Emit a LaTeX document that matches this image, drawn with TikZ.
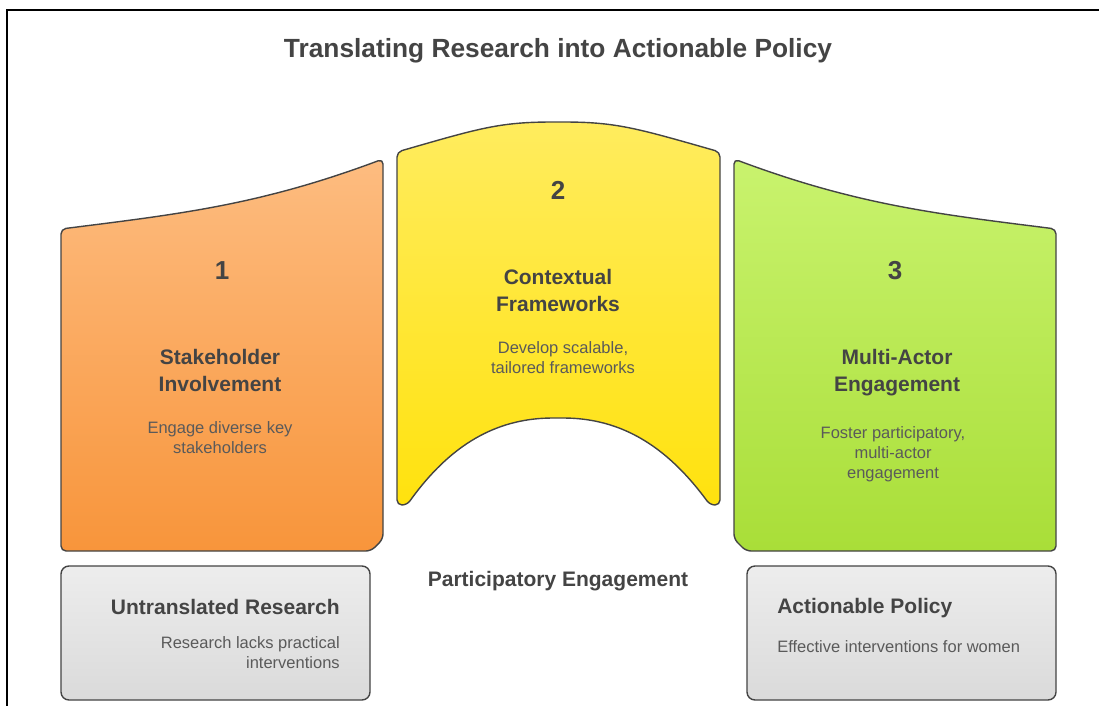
\documentclass[tikz,border=0pt]{standalone}
\usepackage{fontspec}
\setmainfont{Liberation Sans}
\usepackage{tikz}
\usetikzlibrary{positioning,calc}

\definecolor{ink}{HTML}{444444}
\definecolor{softink}{HTML}{5A5A5A}
\definecolor{orangetop}{HTML}{FDBC80}
\definecolor{orangebot}{HTML}{F8953B}
\definecolor{yellowtop}{HTML}{FFEC5E}
\definecolor{yellowbot}{HTML}{FFE20E}
\definecolor{greentop}{HTML}{C9F36E}
\definecolor{greenbot}{HTML}{A9DE38}
\definecolor{greytop}{HTML}{EDEDED}
\definecolor{greybot}{HTML}{DADADA}

\begin{document}
\begin{tikzpicture}[x=1pt, y=-1pt, semithick]
        \tikzstyle{panel}=[draw=ink, line width=1.4pt, rounded corners=5pt]
        \tikzstyle{greybox}=[panel, rounded corners=8pt, top color=greytop, bottom color=greybot]
        \tikzstyle{number}=[text=ink, font=\bfseries\fontsize{26}{30}\selectfont, inner sep=0pt]
        \tikzstyle{heading}=[text=ink, font=\bfseries\fontsize{21}{27}\selectfont, align=center, inner sep=0pt]
        \tikzstyle{blurb}=[text=softink, font=\fontsize{16.5}{20}\selectfont, align=center, inner sep=0pt]

        \useasboundingbox (0,0) rectangle (1099,706);
        \draw[black, line width=1.5pt] (1099,10) -- (7,10) -- (7,706);

        \node[text=ink, font=\bfseries\fontsize{26.3}{30}\selectfont, inner sep=0pt] (title) at (558,51) {Translating Research into Actionable Policy};

        % the three stage panels
        \draw[panel, top color=orangetop, bottom color=orangebot]
            (61,229) .. controls (180,214) and (260,205) .. (383,159)
            -- (383,539) -- (371,551) -- (61,551) -- cycle;
        \draw[panel, top color=yellowtop, bottom color=yellowbot]
            (397,152) .. controls (480,128) and (500,122) .. (558,122)
            .. controls (616,122) and (636,128) .. (720,152)
            -- (720,505) -- (710,505)
            .. controls (666,445) and (620,418) .. (558,418)
            .. controls (496,418) and (450,445) .. (407,505)
            -- (397,505) -- cycle;
        \draw[panel, top color=greentop, bottom color=greenbot]
            (734,159) .. controls (857,205) and (937,214) .. (1056,229)
            -- (1056,551) -- (746,551) -- (734,539) -- cycle;

        \node[number]   (n1) at (222,271) {1};
        \node[heading]  (h1) at (220,370.5) {Stakeholder\\Involvement};
        \node[blurb]    (d1) at (220,438) {Engage diverse key\\stakeholders};

        \node[number]   (n2) at (558,190) {2};
        \node[heading]  (h2) at (558,290.5) {Contextual\\Frameworks};
        \node[blurb]    (d2) at (563,357.5) {Develop scalable,\\tailored frameworks};

        \node[number]   (n3) at (895,271) {3};
        \node[heading]  (h3) at (897,373) {Multi-Actor\\Engagement};
        \node[blurb]    (d3) at (893,454) {Foster participatory,\\multi-actor\\engagement};

        \node[heading] (mid) at (558,581) {Participatory Engagement};

        % start and end states
        \draw[greybox] (61,566) rectangle (370,700);
        \draw[greybox] (747,566) rectangle (1056,700);

        \node[heading, anchor=east]  (h0) at (340,607) {Untranslated Research};
        \node[blurb, align=right, anchor=east] (d0) at (340,653) {Research lacks practical\\interventions};

        \node[heading, anchor=west]  (h4) at (777,608) {Actionable Policy};
        \node[blurb, anchor=west]    (d4) at (777,647) {Effective interventions for women};
    \end{tikzpicture}
\end{document}
